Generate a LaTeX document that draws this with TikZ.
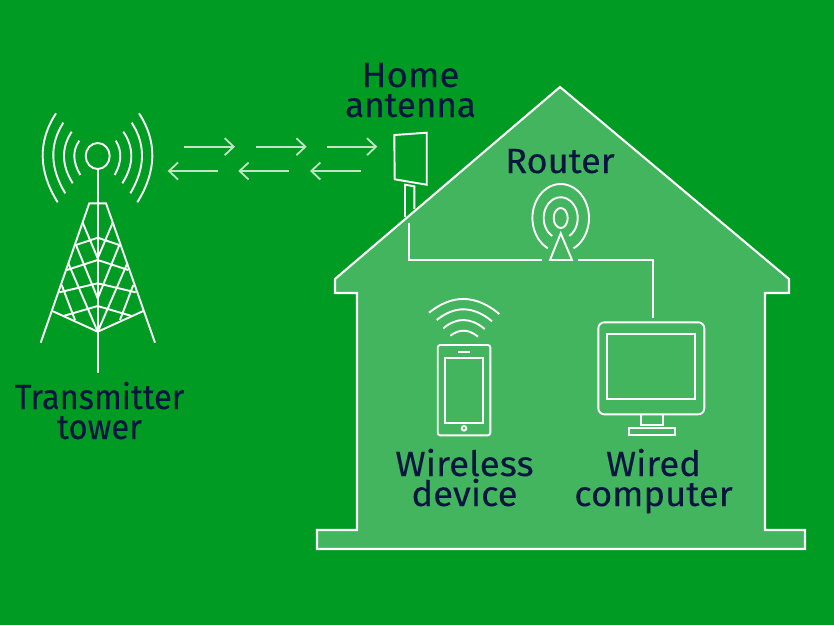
\documentclass[tikz,border=0pt]{standalone}
\usepackage{fontspec}
\setmainfont{Fira Sans}[FakeBold=0.12]
\usetikzlibrary{arrows.meta}
\definecolor{bggreen}{HTML}{009B22}
\definecolor{housegreen}{HTML}{42B55E}
\definecolor{lightarrow}{HTML}{BDE6C3}
\definecolor{navy}{HTML}{06163F}
\newcommand\qarc[6]{\draw (#1,#2) .. controls ({#1+2/3*(#3-#1)},{#2+2/3*(#4-#2)}) and ({#5+2/3*(#3-#5)},{#6+2/3*(#4-#6)}) .. (#5,#6);}
\newcommand\stretched[2]{{\addfontfeatures{FakeStretch=#1}#2}}
\tikzset{
  wline/.style={draw=white,line width=2.1pt,line join=miter},
  thin wline/.style={draw=white,line width=1.9pt},
  flow/.style={draw=lightarrow,line width=1.8pt,-{Straight Barb[length=9pt,width=17pt,line width=1.8pt]}},
  lbl/.style={text=navy,font=\fontsize{35}{35}\selectfont,anchor=base,inner sep=0pt}
}
\begin{document}
\begin{tikzpicture}[x=1pt,y=-1pt]
\useasboundingbox (0,0) rectangle (834,625);
\fill[bggreen] (0,0) rectangle (834,625);
% house
\draw[wline,fill=housegreen] (560,87) -- (789,279) -- (789,293) -- (765,293) -- (765,530) -- (805,530) -- (805,549) -- (317,549) -- (317,530) -- (357,530) -- (357,293) -- (335,293) -- (335,279) -- cycle;
% tower
\begin{scope}[thin wline]
\draw (97.7,156) ellipse [x radius=12,y radius=13];
\draw (97.7,169) -- (97.7,373);
\draw (40.7,342.7) -- (89.3,203.3) -- (106,203.3) -- (155,342.7);
\draw (52.3,311) -- (97.7,331.7) -- (143.3,311);
\draw (76,245) -- (97.7,237.7) -- (119.3,245);
\draw (66.7,270) -- (97.7,260) -- (128.3,270);
\draw (59.3,292.3) -- (97.7,283.3) -- (135.7,292.3);
\draw (63.3,316) -- (97.7,306) -- (131.7,316);
\draw (82.7,222.7) -- (97.7,258.3) -- (112.7,222.7);
\draw (76,245) -- (97.7,298.3) -- (119.3,245);
\draw (68.3,263.3) -- (97.7,331.7) -- (127.3,263.3);
\draw (61.7,285) -- (75,320);
\draw (133.3,285) -- (120,320);
\qarc{56}{113.3}{28.5}{155.6}{57.7}{202.3}
\qarc{63.3}{122.7}{42.3}{155.4}{65.3}{193.3}
\qarc{71.7}{131.7}{55.8}{155.9}{72.7}{183.3}
\qarc{79.3}{140.7}{68.8}{155.5}{80.3}{175}
\qarc{139}{113.3}{166.5}{155.6}{137.3}{202.3}
\qarc{131.7}{122.7}{153}{155.4}{130.3}{193.3}
\qarc{123.3}{131.7}{139.8}{155.9}{122.3}{183.3}
\qarc{115.7}{140.7}{125.4}{155.5}{114.7}{175}
\end{scope}
% signal arrows
\coordinate (a1) at (184.3,146.7); \coordinate (a2) at (235,146.7);
\coordinate (a3) at (256,146.7);   \coordinate (a4) at (306.7,146.7);
\coordinate (a5) at (326.7,146.7); \coordinate (a6) at (377.3,146.7);
\coordinate (b1) at (218.3,171);   \coordinate (b2) at (167.7,171);
\coordinate (b3) at (289,171);     \coordinate (b4) at (238.3,171);
\coordinate (b5) at (361,171);     \coordinate (b6) at (310,171);
\draw[flow] (a1) -- (a2);
\draw[flow] (a3) -- (a4);
\draw[flow] (a5) -- (a6);
\draw[flow] (b1) -- (b2);
\draw[flow] (b3) -- (b4);
\draw[flow] (b5) -- (b6);
% antenna
\draw[thin wline] (394.3,135) -- (426.7,132.7) -- (426.7,184.7) -- (394.7,179.3) -- cycle;
\draw[thin wline] (405,217) -- (405,184.7) -- (414.3,186.3) -- (414.3,209);
% router
\begin{scope}[thin wline]
\draw (560.7,218) ellipse [x radius=7,y radius=10];
\draw (550,260) -- (560.7,233.3) -- (572,260) -- cycle;
\draw plot[domain=120:420,samples=50,smooth] ({560.7+17*cos(\x)},{218+20.7*sin(\x)});
\draw plot[domain=117:423,samples=50,smooth] ({560.7+28.3*cos(\x)},{218+34*sin(\x)});
\draw (409.3,222.7) -- (409.3,260) -- (541.7,260);
\draw (578.3,260) -- (653.3,260) -- (653.3,318);
\end{scope}
% phone
\begin{scope}[thin wline]
\draw[rounded corners=2.5pt] (437.7,345) rectangle (490.3,435.3);
\draw (445.3,358.3) rectangle (482.7,423.3);
\draw (458.3,351.7) -- (470,351.7);
\draw (464,428.3) circle [radius=2.3];
\qarc{429}{312.7}{464}{284.6}{499.3}{314}
\qarc{436.7}{320}{464}{298}{492}{321.3}
\qarc{443.3}{328.3}{463.5}{311.4}{484.7}{329}
\qarc{450.3}{335.7}{464}{325.2}{478}{336.7}
\end{scope}
% monitor
\begin{scope}[thin wline]
\draw[rounded corners=6pt] (598.3,322.3) rectangle (704.3,414.3);
\draw (607.3,333.7) rectangle (694.7,398.7);
\draw (641.3,414.3) -- (641.3,425.3) -- (663,425.3) -- (663,414.3);
\draw (628.7,427.7) rectangle (675.3,435);
\end{scope}
% labels
\node[lbl] (home1) at (410.5,87) {\stretched{1.05}{Home}};
\node[lbl] (home2) at (410.5,117) {\stretched{1.0}{antenna}};
\node[lbl] (router) at (560,173) {\stretched{1.03}{Router}};
\node[lbl] (tx1) at (99.5,409) {\stretched{0.93}{Transmitter}};
\node[lbl] (tx2) at (99.5,439) {\stretched{0.94}{tower}};
\node[lbl] (wl1) at (464.5,476) {\stretched{1.05}{Wireless}};
\node[lbl] (wl2) at (464.5,506) {\stretched{1.04}{device}};
\node[lbl] (wd1) at (653.5,476) {\stretched{1.04}{Wired}};
\node[lbl] (wd2) at (653.5,506) {\stretched{1.04}{computer}};
\end{tikzpicture}
\end{document}
